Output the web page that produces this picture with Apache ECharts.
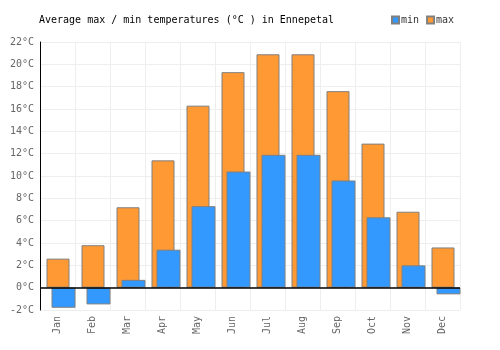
<!DOCTYPE html>
<html>
<head>
<meta charset="utf-8">
<script src="https://cdn.jsdelivr.net/npm/echarts@6/dist/echarts.min.js"></script>
<style>
  html, body { margin: 0; padding: 0; background: #fff; }
  #main { width: 500px; height: 350px; }
</style>
</head>
<body>
<div id="main"></div>
<script>
// data
var months = ['Jan', 'Feb', 'Mar', 'Apr', 'May', 'Jun', 'Jul', 'Aug', 'Sep', 'Oct', 'Nov', 'Dec'];
var maxTemps = [2.6, 3.8, 7.2, 11.4, 16.3, 19.3, 20.9, 20.9, 17.6, 12.9, 6.8, 3.6];
var minTemps = [-1.8, -1.5, 0.7, 3.4, 7.3, 10.4, 11.9, 11.9, 9.6, 6.3, 2.0, -0.6];
var emptySlot = ['-', '-', '-', '-', '-', '-', '-', '-', '-', '-', '-', '-'];

var mono = 'DejaVu Sans Mono';
var chart = echarts.init(document.getElementById('main'), null, { renderer: 'canvas' });

var option = {
    animation: false,
    title: {
        text: 'Average max / min temperatures (°C ) in Ennepetal',
        left: 39,
        top: 15,
        padding: 0,
        textStyle: { fontFamily: mono, fontSize: 10, fontWeight: 'normal', color: '#000' }
    },
    legend: {
        data: ['min', 'max'],
        left: 391,
        top: 15,
        padding: 0,
        itemWidth: 7,
        itemHeight: 7,
        itemGap: 7,
        icon: 'rect',
        textStyle: { fontFamily: mono, fontSize: 10, color: '#333', padding: [0, 0, 0, -3] }
    },
    grid: { left: 40, right: 40, top: 42, bottom: 40 },
    xAxis: {
        type: 'category',
        data: months,
        axisLine: { onZero: false, show: false },
        axisTick: { show: false },
        axisLabel: { rotate: 90, fontFamily: mono, fontSize: 10, color: '#666', margin: 6 },
        splitLine: { show: true, interval: 0, lineStyle: { color: '#eeeeee' } }
    },
    yAxis: {
        type: 'value',
        min: -2,
        max: 22,
        interval: 2,
        axisLine: { show: true, lineStyle: { color: '#000' } },
        axisTick: { show: false },
        axisLabel: { formatter: '{value}°C', fontFamily: mono, fontSize: 10, color: '#666', margin: 6 },
        splitLine: { lineStyle: { color: '#eeeeee' } }
    },
    series: [
        {
            name: 'max',
            type: 'bar',
            data: maxTemps,
            barWidth: 23,
            barGap: '-78.26%',
            itemStyle: { color: '#ff9933', borderColor: '#808080', borderWidth: 1 },
            markLine: {
                silent: true,
                symbol: 'none',
                label: { show: false },
                lineStyle: { color: '#000', type: 'solid', width: 1.5 },
                data: [{ yAxis: 0 }]
            }
        },
        {
            name: 'min',
            type: 'bar',
            data: minTemps,
            barWidth: 24,
            barGap: '-78.26%',
            itemStyle: { color: '#3399ff', borderColor: '#808080', borderWidth: 1 }
        },
        {
            // empty slot so the pair sits where the reference puts it
            name: 'pad',
            type: 'bar',
            data: emptySlot,
            barWidth: 11.78,
            barGap: '-78.26%'
        }
    ]
};

option && chart.setOption(option);
</script>
</body>
</html>
